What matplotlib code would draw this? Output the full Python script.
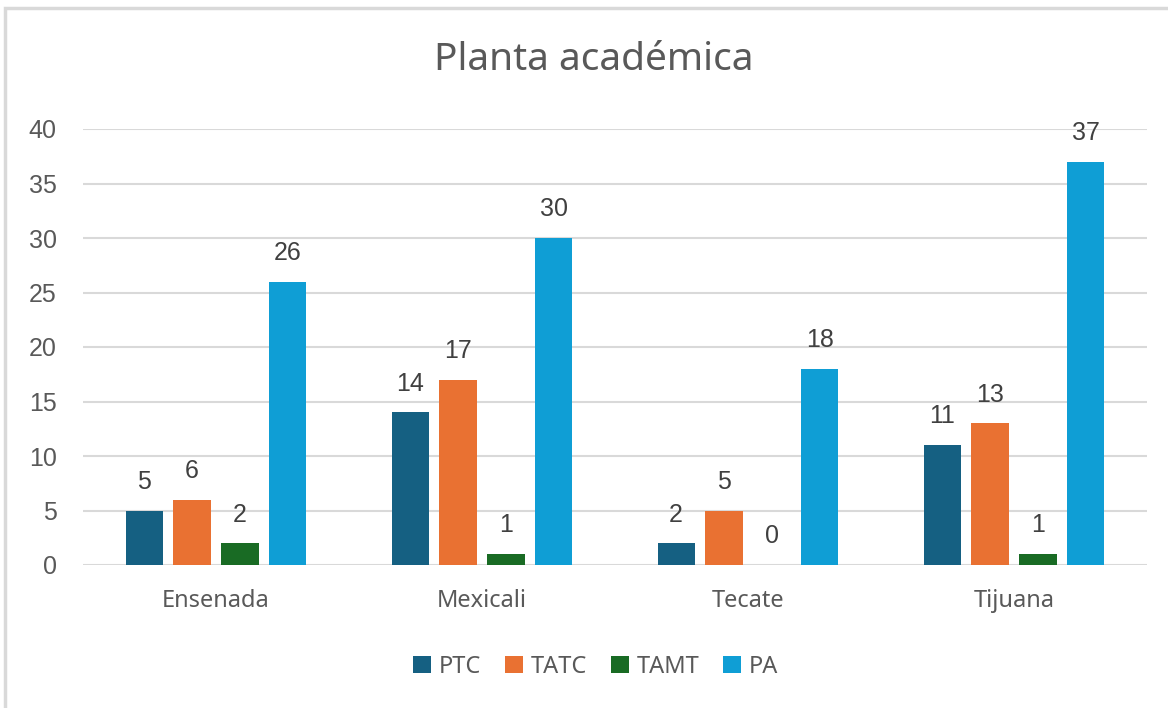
import numpy as np
import matplotlib.pyplot as plt
from matplotlib.patches import Rectangle

campus = ["Ensenada", "Mexicali", "Tecate", "Tijuana"]
series = ["PTC", "TATC", "TAMT", "PA"]
ptc = [5, 14, 2, 11]
tatc = [6, 17, 5, 13]
tamt = [2, 1, 0, 1]
pa = [26, 30, 18, 37]
colors = ["#156082", "#E97132", "#196B24", "#0F9ED5"]

values = [ptc, tatc, tamt, pa]
txt = "#595959"

fig = plt.figure(figsize=(11.68, 7.08), dpi=100)
fig.patches.append(Rectangle((5 / 1168, -0.1), 1.2, 1 - 8 / 708 + 0.1,
                             transform=fig.transFigure, fill=False,
                             edgecolor="#d9d9d9", linewidth=2.5))
ax = fig.add_axes([83 / 1168, 143 / 708, 1064 / 1168, 436 / 708])

x = np.arange(len(campus))
step = 0.18
width = 0.14
for i, (name, vals, c) in enumerate(zip(series, values, colors)):
    pos = x + (i - 1.5) * step
    ax.bar(pos, vals, width, color=c, label=name, zorder=3)
    for p, v in zip(pos, vals):
        ax.annotate(str(v), (p, v), xytext=(0, 12), textcoords="offset points",
                    ha="center", va="bottom", fontsize=18, color="#404040",
                    family="Liberation Sans")

ax.set_xlim(-0.5, 3.5)
ax.set_ylim(0, 40)
ax.set_yticks(range(0, 41, 5))
ax.yaxis.grid(True, color="#d9d9d9", linewidth=1.5, zorder=0)
for s in ax.spines.values():
    s.set_visible(False)
ax.tick_params(axis="y", length=0, pad=19, labelsize=18, labelcolor=txt)
ax.tick_params(axis="x", length=0, pad=17, labelsize=17, labelcolor=txt)
for lab in ax.get_yticklabels():
    lab.set_family("Liberation Sans")
ax.set_xticks(x)
ax.set_xticklabels(campus, family="Noto Sans")

fig.text(0.508, 1 - 60 / 708, "Planta académica", ha="center", va="center",
         fontsize=28, color=txt, family="Noto Sans")

fig.legend(loc="center", bbox_to_anchor=(0.51, 1 - 667 / 708), ncol=4,
           frameon=False, prop={"family": "Noto Sans", "size": 17},
           labelcolor=txt, handlelength=0.75, handleheight=0.75,
           handletextpad=0.35, columnspacing=1.0)

fig.savefig("out.png", dpi=100)
